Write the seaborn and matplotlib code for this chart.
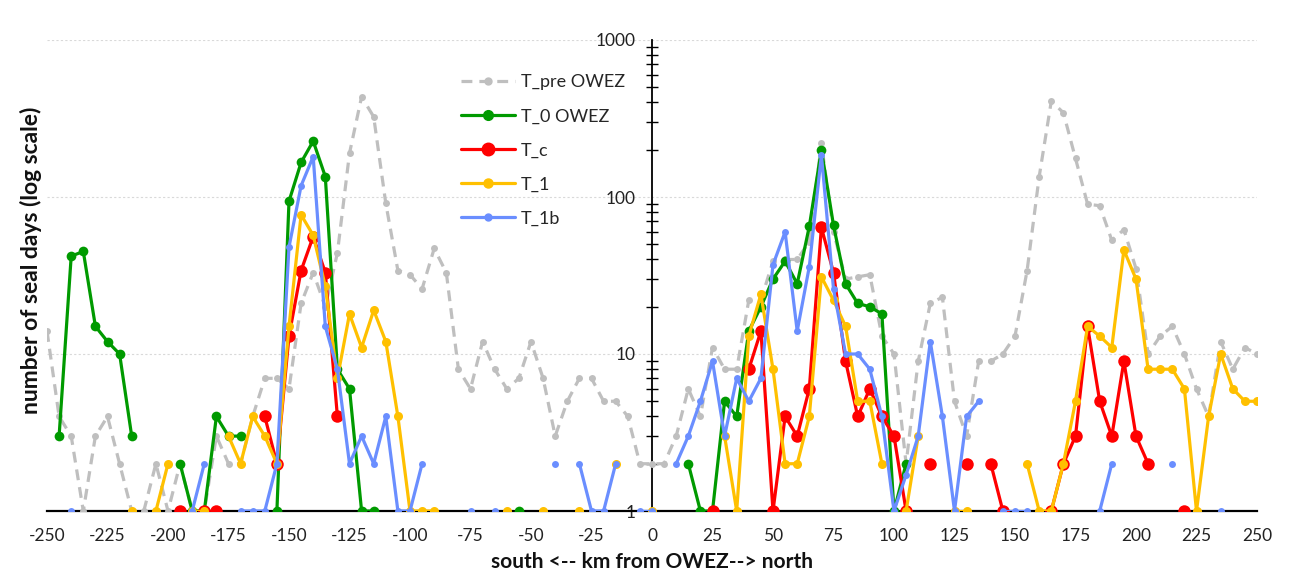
import numpy as np
import pandas as pd
import matplotlib
matplotlib.use("Agg")
import matplotlib.pyplot as plt
from matplotlib.lines import Line2D
from matplotlib.ticker import LogLocator, FixedLocator, NullFormatter
import seaborn as sns

N = None
km = list(range(-250, 255, 5))

# number of seal days per 5 km bin (None = no value)
t_pre = [14, 4, 3, 1, 3, 4, 2, 1, 1, 2,
         1, 2, 1, 1, 3, 2, 2, 4, 7, 7,
         6, 21, 33, 20, 44, 190, 435, 324, 91, 34,
         32, 26, 47, 33, 8, 6, 12, 8, 6, 7,
         12, 7, 3, 5, 7, 7, 5, 5, 4, 2,
         2, 2, 3, 6, 4, 11, 8, 8, 22, 22,
         39, 40, 40, 52, 220, 60, 30, 31, 32, 13,
         10, 2, 9, 21, 23, 5, 3, 9, 9, 10,
         13, 34, 135, 408, 344, 176, 90, 88, 53, 62,
         35, 10, 13, 15, 10, 6, 4, 12, 8, 11,
         10]
t_0 = [N, 3, 42, 45, 15, 12, 10, 3, N, N,
       N, 2, 1, 1, 4, 3, 3, N, N, 1,
       94, 166, 227, 135, 8, 6, 1, 1, N, N,
       N, N, N, N, N, N, N, N, N, 1,
       N, N, N, N, N, N, N, N, N, N,
       N, N, N, 2, 1, 1, 5, 4, 14, 20,
       30, 39, 28, 65, 200, 66, 28, 21, 20, 18,
       1, 2, N, N, N, N, N, N, N, N,
       N, N, N, N, N, N, N, N, N, N,
       N, N, N, N, N, N, N, N, N, N,
       N]
t_c = [N, N, N, N, N, N, N, N, N, N,
       N, 1, N, 1, 1, N, N, N, 4, 2,
       13, 34, 56, 33, 4, N, N, N, N, N,
       N, N, N, N, N, N, N, N, N, N,
       N, N, N, N, N, N, N, N, N, N,
       N, N, N, N, N, 1, N, N, 8, 14,
       1, 4, 3, 6, 64, 33, 9, 4, 6, 4,
       3, 1, N, 2, N, N, 2, N, 2, 1,
       N, N, N, 1, 2, 3, 15, 5, 3, 9,
       3, 2, N, N, 1, N, N, N, N, N,
       N]
t_1 = [N, N, N, N, N, N, N, 1, N, 1,
       2, N, 1, 1, N, 3, 2, 4, 3, 2,
       15, 77, 57, 27, 7, 18, 11, 19, 12, 4,
       1, 1, 1, N, N, N, N, N, 1, N,
       N, 1, N, N, 1, N, N, 2, N, N,
       1, N, N, N, N, N, 3, 1, 13, 24,
       8, 2, 2, 4, 31, 22, 15, 5, 5, 2,
       N, 1, 3, N, N, 1, 1, N, N, N,
       N, 2, 1, 1, 2, 5, 15, 13, 11, 46,
       30, 8, 8, 8, 6, 1, 4, 10, 6, 5,
       5]
t_1b = [N, N, 1, N, N, N, N, N, N, N,
        N, N, 1, 2, N, N, 1, 1, 1, 2,
        48, 118, 181, 15, 8, 2, 3, 2, 4, 1,
        1, 2, N, N, N, 1, N, 1, N, N,
        N, N, 2, N, 2, 1, 1, 2, N, 1,
        1, N, 2, 3, 5, 9, 3, 7, 5, 7,
        37, 60, 14, 36, 185, 26, 10, 10, 8, 4,
        1, 1.7, 3, 12, 4, 1, 4, 5, N, 1,
        1, 1, N, N, N, N, N, 1, 2, N,
        N, N, N, 2, N, N, N, 1, N, N,
        N]

series_names = ["T_pre OWEZ", "T_0 OWEZ", "T_c", "T_1", "T_1b"]
series_vals = [t_pre, t_0, t_c, t_1, t_1b]
x_ticks = list(range(-250, 251, 25))
y_ticks = [1, 10, 100, 1000]

styles = {
    "T_pre OWEZ": dict(color="#BFBFBF", lw=2.3, ms=5.0, dashed=True),
    "T_0 OWEZ": dict(color="#009A00", lw=2.3, ms=7.0, dashed=False),
    "T_c": dict(color="#FF0000", lw=2.3, ms=9.0, dashed=False),
    "T_1": dict(color="#FFC000", lw=2.3, ms=6.5, dashed=False),
    "T_1b": dict(color="#6A8EFF", lw=2.3, ms=5.0, dashed=False),
}

# build long-form table with segment ids (gaps break lines)
rows = []
for name, vals in zip(series_names, series_vals):
    seg = 0
    prev_none = True
    for k, v in zip(km, vals):
        if v is None:
            prev_none = True
            continue
        if prev_none:
            seg += 1
        prev_none = False
        rows.append(dict(series=name, km=k, value=float(v), seg=seg))
df = pd.DataFrame(rows)

sns.set_theme(style="white")
plt.rcParams["font.family"] = ["Lato", "DejaVu Sans"]

fig = plt.figure(figsize=(12.91, 5.73), dpi=100)
ax = fig.add_axes([47 / 1291, 1 - 511 / 573, (1257 - 47) / 1291, (511 - 40) / 573])
ax.set_yscale("log")
ax.set_ylim(1, 1000)
ax.set_xlim(-250, 250)

for name in series_names:
    st = styles[name]
    sub = df[df.series == name]
    before = len(ax.lines)
    sns.lineplot(data=sub, x="km", y="value", units="seg", estimator=None,
                 color=st["color"], lw=st["lw"], marker="o", ms=st["ms"],
                 mec=st["color"], mfc=st["color"], mew=0, ax=ax, legend=False,
                 zorder=3)
    if st["dashed"]:
        for ln in ax.lines[before:]:
            ln.set_dashes((3.4, 2.2))

# grid
ax.yaxis.grid(True, which="major", color="#D9D9D9", linestyle=(0, (2, 2)), lw=0.8)
ax.xaxis.grid(False)
ax.set_axisbelow(True)

# spines
for s in ["top", "right"]:
    ax.spines[s].set_visible(False)
ax.spines["left"].set_position(("data", 0))
ax.spines["left"].set_color("black")
ax.spines["left"].set_linewidth(1.3)
ax.spines["bottom"].set_color("black")
ax.spines["bottom"].set_linewidth(1.6)
ax.spines["left"].set_zorder(2)
ax.spines["bottom"].set_zorder(2)

ax.set_xticks(x_ticks)
ax.set_xticklabels([str(t) for t in x_ticks])
ax.yaxis.set_major_locator(FixedLocator(y_ticks))
ax.set_yticklabels([str(t) for t in y_ticks])
ax.yaxis.set_minor_locator(LogLocator(base=10, subs=np.arange(2, 10)))
ax.yaxis.set_minor_formatter(NullFormatter())
ax.tick_params(axis="x", which="major", direction="out", length=6, width=1.3,
               color="black", labelsize=12.5, pad=6, labelcolor="#222222")
ax.tick_params(axis="y", which="major", direction="inout", length=10, width=1.2,
               color="black", labelsize=12.5, pad=7, labelcolor="#222222")
ax.tick_params(axis="y", which="minor", direction="inout", length=9, width=1.0,
               color="black", left=True)

ax.set_xlabel("south <-- km from OWEZ--> north", fontsize=15, fontweight="bold",
              labelpad=6, color="#111111")
ax.set_ylabel("")
fig.text(0.024, 0.545, "number of seal days (log scale)", rotation=90,
         ha="center", va="center", fontsize=16.5, fontweight="bold", color="#111111")

handles = []
for name in series_names:
    st = styles[name]
    h = Line2D([0], [0], color=st["color"], lw=st["lw"], marker="o", ms=st["ms"],
               mec=st["color"], mfc=st["color"])
    if st["dashed"]:
        h.set_dashes((3.4, 2.2))
    handles.append(h)
fig.legend(handles, series_names, loc="upper left",
           bbox_to_anchor=(445 / 1291, 1 - 58 / 573), frameon=False,
           fontsize=13, handlelength=3.0, handletextpad=0.3, labelspacing=1.0)

fig.savefig("out.png", dpi=100)
